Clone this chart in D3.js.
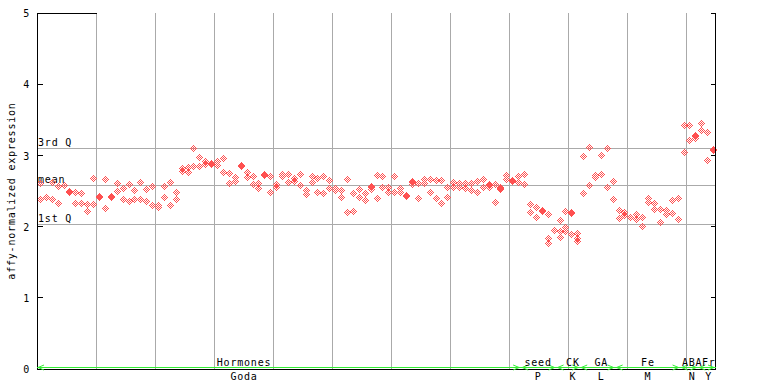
<!DOCTYPE html>
<html><head><meta charset="utf-8">
<script src="https://cdn.jsdelivr.net/npm/d3@7"></script>
<style>
body{margin:0;background:#fff}
text{font-family:"DejaVu Sans Mono",monospace;font-size:10px;letter-spacing:0.8px;fill:#000}
</style>
</head><body>
<svg id="chart" width="768" height="384"></svg>
<script>
// expression values per sample (replicates), samples 0..114
const expression = [
 [2.61,2.39],[2.422],[2.629,2.39],[2.568,2.338],[2.582],[2.502,2.488],[2.484,2.338],[2.474,2.338],[2.319,2.221],[2.681,2.319],
 [2.432,2.418],[2.667,2.259],[2.432,2.418],[2.61,2.502],[2.544,2.386],[2.60,2.362],[2.512,2.39],[2.633,2.39],[2.535,2.366],[2.568,2.301],
 [2.301,2.273],[2.568,2.414],[2.624,2.301],[2.495,2.386],[2.821,2.788],[2.835,2.773],[3.107,2.854],[2.976,2.854],[2.928,2.882],[2.90,2.882],
 [2.928,2.868],[2.962,2.765],[2.76,2.61],[2.695,2.639],[2.868,2.854],[2.765,2.695],[2.713,2.596],[2.61,2.54],[2.741,2.727],[2.713,2.484],
 [2.596,2.563],[2.737,2.713],[2.737,2.624],[2.681,2.647],[2.737,2.582],[2.516,2.456],[2.709,2.624],[2.681,2.484],[2.709,2.47],[2.653,2.54],
 [2.54,2.516],[2.512,2.414],[2.667,2.203],[2.47,2.221],[2.526,2.414],[2.47,2.371],[2.575,2.561,2.526],[2.727,2.399],[2.713,2.554],[2.554,2.492],
 [2.713,2.492],[2.54,2.484],[2.446,2.432],[2.636,2.622,2.603],[2.61,2.399],[2.667,2.61],[2.667,2.492],[2.653,2.399],[2.653,2.329],[2.554,2.414],
 [2.633,2.563],[2.619,2.554],[2.619,2.54],[2.61,2.516],[2.638,2.492],[2.667,2.563],[2.601,2.586,2.563],[2.596,2.352],[2.565,2.551,2.53],[2.723,2.667],
 [2.657,2.643],[2.709,2.624],[2.737,2.596],[2.315,2.203],[2.273,2.132],[2.235,2.221],[2.175,1.837,1.767],[1.95],[2.09,1.936,1.851],[2.215,1.992,1.936],
 [2.207,2.193,1.893],[1.908,1.837,1.804],[2.99,2.47],[3.116,2.582],[2.731,2.695],[3.004,2.737],[3.102,2.554],[2.638,2.386],[2.235,2.118],[2.203,2.169],
 [2.141],[2.175,2.104],[2.132,2.006],[2.404,2.343],[2.329,2.245],[2.245,2.062],[2.231,2.175],[2.371,2.189],[2.399,2.104],[3.426,3.046],
 [3.426,3.215],[3.289,3.275,3.247],[3.454,3.355],[3.327,2.934],[3.092,3.078]
];
const yTicks = [0,1,2,3,4,5];
const refLabels = ["3rd Q","mean","1st Q"];
const refValues = [3.10, 2.586, 2.034];
const groupLabels = ["Hormones","seed","CK","GA","Fe","ABA","Fr"];
const groupCodes  = ["Goda","P","K","L","M","N","Y"];
const groupStart  = [0, 82, 88, 92, 98, 109, 112];
const groupEnd    = [81, 87, 91, 97, 108, 111, 114];
const groupMid    = [35.0, 84.8, 90.7, 95.5, 103.4, 110.9, 113.7];
const gridStep = 10;

const N = expression.length;
const svg = d3.select("#chart");
const x = d3.scaleLinear().domain([0, N]).range([37, 716]);
const y = d3.scaleLinear().domain([0, 5]).range([369, 13.3]);
const px = v => Math.floor(v) + 0.5;
const gray = "#aaaaaa", red = "#ff5050", green = "#33ee33";

// vertical grid
const gridIdx = d3.range(gridStep, N, gridStep);
svg.append("g").selectAll("line").data(gridIdx).join("line")
  .attr("x1", d => px(x(d))).attr("x2", d => px(x(d)))
  .attr("y1", y(5)).attr("y2", y(0))
  .attr("stroke", gray).attr("shape-rendering","crispEdges");

// horizontal reference lines
svg.append("g").selectAll("line").data(refValues).join("line")
  .attr("x1", x(0)).attr("x2", x(N))
  .attr("y1", d => px(y(d))).attr("y2", d => px(y(d)))
  .attr("stroke", gray).attr("shape-rendering","crispEdges");
svg.append("g").selectAll("text").data(refValues).join("text")
  .attr("x", x(0) + 1).attr("y", d => Math.floor(y(d)) - 2.5)
  .text((d,i) => refLabels[i]);

// points: checkerboard diamond built from pixels
const offs = [];
for (let dx=-3; dx<=3; dx++) for (let dy=-3; dy<=3; dy++) {
  const m = Math.abs(dx)+Math.abs(dy);
  if (m<=3 && m%2===1) offs.push([dx,dy]);
}
const pts = [];
expression.forEach((vals,i) => vals.forEach(v => pts.push({i, v})));
svg.append("g").selectAll("path").data(pts).join("path")
  .attr("d", d => {
    const cx = Math.round(x(d.i + 0.5)), cy = Math.round(y(d.v));
    return offs.map(([dx,dy]) => `M${cx+dx},${cy+dy}h1v1h-1z`).join("");
  })
  .attr("fill", red).attr("shape-rendering","crispEdges");

// axes lines
const axisG = svg.append("g").attr("shape-rendering","crispEdges");
axisG.append("line").attr("x1", px(x(0))).attr("x2", px(x(0))).attr("y1", y(5)).attr("y2", y(0)+0.5).attr("stroke","#000");
axisG.append("line").attr("x1", px(x(N))-1).attr("x2", px(x(N))-1).attr("y1", y(5)).attr("y2", y(0)+0.5).attr("stroke","#000");
axisG.append("line").attr("x1", x(0)).attr("x2", x(N)).attr("y1", px(y(0))).attr("y2", px(y(0))).attr("stroke","#000");
axisG.append("line").attr("x1", x(0)).attr("x2", px(x(gridStep))).attr("y1", px(y(5))).attr("y2", px(y(5))).attr("stroke","#000");
axisG.selectAll(".tl").data(yTicks).join("line").attr("class","tl")
  .attr("x1", px(x(0))).attr("x2", px(x(0))+5)
  .attr("y1", d => px(y(d))).attr("y2", d => px(y(d))).attr("stroke","#000");
axisG.selectAll(".tr").data(yTicks).join("line").attr("class","tr")
  .attr("x1", px(x(N))-1).attr("x2", px(x(N))-6)
  .attr("y1", d => px(y(d))).attr("y2", d => px(y(d))).attr("stroke","#000");
svg.append("g").selectAll("text").data(yTicks).join("text")
  .attr("x", 30).attr("y", d => y(d) + 4).attr("text-anchor","end")
  .text(d => d);

// y title
svg.append("text").attr("transform","translate(15,191) rotate(-90)")
  .attr("text-anchor","middle").text("affy-normalized expression");

// group bar (green) with arrows
const gy = 367.5;
const gg = svg.append("g");
gg.append("line").attr("x1", x(0)).attr("x2", x(N)).attr("y1", gy).attr("y2", gy)
  .attr("stroke", green).attr("shape-rendering","crispEdges");
groupLabels.forEach((lab, k) => {
  const x0 = x(groupStart[k]) + 1, x1 = x(groupEnd[k] + 1) - 2;
  gg.append("path").attr("d", `M${x0+6},${gy-2.5}L${x0},${gy}L${x0+6},${gy+2.5}`)
    .attr("fill","none").attr("stroke", green);
  gg.append("path").attr("d", `M${x1-6},${gy-2.5}L${x1},${gy}L${x1-6},${gy+2.5}`)
    .attr("fill","none").attr("stroke", green);
  const cx = x(groupMid[k]) + 0.4;
  svg.append("text").attr("x", cx).attr("y", 366).attr("text-anchor","middle").text(lab);
  svg.append("text").attr("x", cx).attr("y", 380).attr("text-anchor","middle").text(groupCodes[k]);
});
</script>
</body></html>
